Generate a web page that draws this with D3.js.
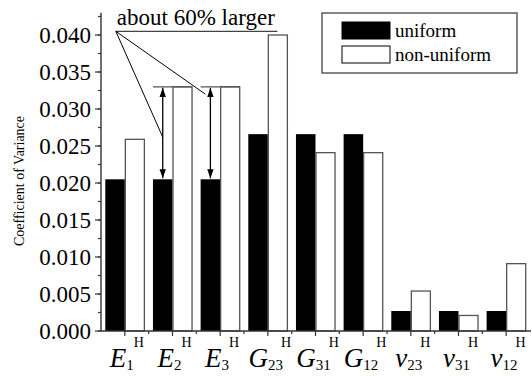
<!DOCTYPE html>
<html>
<head>
<meta charset="utf-8">
<script src="https://cdn.jsdelivr.net/npm/d3@7"></script>
<style>
  html, body { margin: 0; padding: 0; background: #fff; }
  svg { display: block; font-family: "Liberation Serif", "Times New Roman", serif; }
</style>
</head>
<body>
<svg id="chart" width="532" height="376"></svg>
<script>
// Elastic constants of the homogenized material
const categories = ["E1", "E2", "E3", "G23", "G31", "G12", "v23", "v31", "v12"];
const symbols    = ["E", "E", "E", "G", "G", "G", "ν", "ν", "ν"];
const subscripts = ["1", "2", "3", "23", "31", "12", "23", "31", "12"];
const uniformCV    = [0.0205, 0.0205, 0.0205, 0.0266, 0.0266, 0.0266, 0.0027, 0.0027, 0.0027];
const nonUniformCV = [0.0259, 0.0330, 0.0330, 0.0400, 0.0241, 0.0241, 0.0054, 0.0021, 0.0091];
const yTicks = [0, 0.005, 0.010, 0.015, 0.020, 0.025, 0.030, 0.035, 0.040];
const seriesNames = ["uniform", "non-uniform"];
const arrowCats = ["E2", "E3"];

const svg = d3.select("#chart");
const axisColor = "#333";
const serif = "Liberation Serif, Times New Roman, serif";

const x = d3.scaleBand().domain(categories).range([101, 530]).padding(0);
const y = d3.scaleLinear().domain([0, 0.043]).range([331, 12.8]);
const barW = x.bandwidth() * 0.41;
const cx = c => x(c) + x.bandwidth() / 2;

// bars
const g = svg.append("g");
g.selectAll("rect.uni").data(categories).join("rect")
  .attr("x", (c) => cx(c) - barW)
  .attr("y", (c, i) => y(uniformCV[i]))
  .attr("width", barW)
  .attr("height", (c, i) => y(0) - y(uniformCV[i]))
  .attr("fill", "#000");
g.selectAll("rect.non").data(categories).join("rect")
  .attr("x", (c) => cx(c) + 0.5)
  .attr("y", (c, i) => y(nonUniformCV[i]))
  .attr("width", barW - 0.5)
  .attr("height", (c, i) => y(0) - y(nonUniformCV[i]))
  .attr("fill", "#fff")
  .attr("stroke", "#555")
  .attr("stroke-width", 1.3);

// y axis
const yAxis = svg.append("g");
yAxis.append("line").attr("x1", 101).attr("x2", 101).attr("y1", y(0)).attr("y2", y(0.043))
  .attr("stroke", axisColor).attr("stroke-width", 1.4);
const minorY = d3.range(0, 0.0426, 0.0025);
yAxis.selectAll("line.minor").data(minorY).join("line")
  .attr("x1", 101).attr("x2", 98)
  .attr("y1", d => y(d)).attr("y2", d => y(d))
  .attr("stroke", axisColor).attr("stroke-width", 1.2);
yAxis.selectAll("line.major").data(yTicks).join("line")
  .attr("x1", 101).attr("x2", 95)
  .attr("y1", d => y(d)).attr("y2", d => y(d))
  .attr("stroke", axisColor).attr("stroke-width", 1.2);
yAxis.selectAll("text").data(yTicks).join("text")
  .attr("x", 91).attr("y", d => y(d) + 8)
  .attr("text-anchor", "end")
  .attr("font-family", serif)
  .attr("font-size", 23)
  .text(d => d3.format(".3f")(d));

svg.append("text")
  .attr("transform", "translate(24,181) rotate(-90)")
  .attr("text-anchor", "middle")
  .attr("font-family", serif)
  .attr("font-size", 14)
  .text("Coefficient of Variance");

// x axis
const xAxis = svg.append("g");
xAxis.append("line").attr("x1", 101).attr("x2", 531).attr("y1", y(0)).attr("y2", y(0))
  .attr("stroke", axisColor).attr("stroke-width", 1.4);
xAxis.selectAll("line.maj").data(categories).join("line")
  .attr("x1", c => cx(c)).attr("x2", c => cx(c))
  .attr("y1", y(0)).attr("y2", y(0) + 5)
  .attr("stroke", axisColor).attr("stroke-width", 1.2);
xAxis.selectAll("line.min").data(categories.slice(1)).join("line")
  .attr("x1", c => x(c)).attr("x2", c => x(c))
  .attr("y1", y(0)).attr("y2", y(0) + 3)
  .attr("stroke", axisColor).attr("stroke-width", 1.2);

// category labels: italic symbol, subscript index, superscript H
const labels = xAxis.selectAll("text").data(categories).join("text")
  .attr("x", c => cx(c) + 2)
  .attr("y", 367)
  .attr("font-family", serif)
  .attr("text-anchor", "middle");
labels.append("tspan").attr("font-style", "italic").attr("font-size", 27)
  .text((c, i) => symbols[i]);
labels.append("tspan").attr("font-size", 15).attr("dy", 3)
  .text((c, i) => subscripts[i]);
labels.append("tspan").attr("font-size", 14).attr("dy", -23).attr("dx", (c, i) => subscripts[i].length > 1 ? -2 : 0)
  .text("H");

// legend
const leg = svg.append("g");
leg.append("rect").attr("x", 322).attr("y", 13).attr("width", 195).attr("height", 60)
  .attr("fill", "#fff").attr("stroke", "#444").attr("stroke-width", 1.3);
seriesNames.forEach((name, i) => {
  leg.append("rect").attr("x", 342).attr("y", 22 + i * 24).attr("width", 48).attr("height", 17)
    .attr("fill", i === 0 ? "#000" : "#fff").attr("stroke", "#000").attr("stroke-width", 1);
  leg.append("text").attr("x", 395).attr("y", 37 + i * 24)
    .attr("font-family", serif).attr("font-size", 19).text(name);
});

// "about 60% larger" annotation
const ann = svg.append("g");
const apexX = cx("E1") - 9, apexY = y(0.0405);
ann.append("text").attr("x", apexX + 1).attr("y", 25)
  .attr("font-family", serif).attr("font-size", 23).text("about 60% larger");
ann.append("line").attr("x1", apexX).attr("x2", cx("G23") + barW - 10)
  .attr("y1", apexY).attr("y2", apexY).attr("stroke", "#444").attr("stroke-width", 1.2);

svg.append("defs").append("marker")
  .attr("id", "ah").attr("viewBox", "0 0 10 10").attr("refX", 10).attr("refY", 5)
  .attr("markerWidth", 7).attr("markerHeight", 7).attr("orient", "auto-start-reverse")
  .append("path").attr("d", "M0,1.5 L10,5 L0,8.5 Z").attr("fill", "#000");

arrowCats.forEach(c => {
  const i = categories.indexOf(c);
  const ax = cx(c) - barW / 2;
  ann.append("line").attr("x1", cx(c) - barW).attr("x2", cx(c) + barW)
    .attr("y1", y(nonUniformCV[i])).attr("y2", y(nonUniformCV[i]))
    .attr("stroke", "#555").attr("stroke-width", 1.3);
  ann.append("line").attr("x1", ax).attr("x2", ax)
    .attr("y1", y(nonUniformCV[i]) + 1).attr("y2", y(uniformCV[i]) - 1)
    .attr("stroke", "#000").attr("stroke-width", 1.3)
    .attr("marker-start", "url(#ah)").attr("marker-end", "url(#ah)");
});
// leader lines from the label to both arrows
ann.append("line").attr("x1", apexX).attr("y1", apexY)
  .attr("x2", cx("E2") - barW / 2).attr("y2", y(0.0262))
  .attr("stroke", "#000").attr("stroke-width", 1);
ann.append("line").attr("x1", apexX).attr("y1", apexY)
  .attr("x2", cx("E3") - barW / 2 - 5).attr("y2", y(0.0320))
  .attr("stroke", "#000").attr("stroke-width", 1);
</script>
</body>
</html>
